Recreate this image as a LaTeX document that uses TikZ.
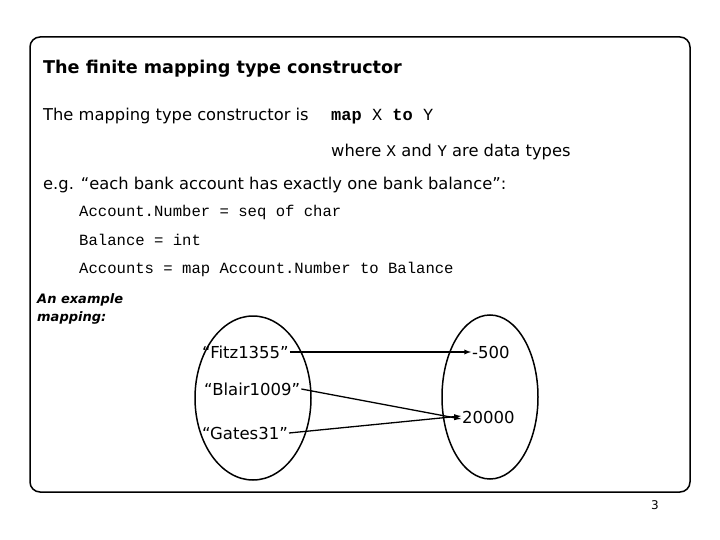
\documentclass[tikz,border=0pt]{standalone}
\usepackage{fontspec}
\setmainfont{DejaVu Sans}
\setmonofont{Liberation Mono}
\begin{document}
\begin{tikzpicture}[x=1pt,y=-1pt,
  txt/.style={anchor=base west,inner sep=0pt,font=\fontsize{16.3}{18}\selectfont},
  mono/.style={anchor=base west,inner sep=0pt,font=\ttfamily\fontsize{15.6}{18}\selectfont},
  item/.style={inner sep=1pt,font=\fontsize{16.5}{18}\selectfont},
  arr/.style={-latex,line width=1.3pt}]
\useasboundingbox (0,0) rectangle (720,540);
\draw[line width=1.5pt,rounded corners=10pt] (30,37) rectangle (690,492);
\node[txt,font=\bfseries\fontsize{17.6}{20}\selectfont] (title) at (43,74) {The finite mapping type constructor};
\node[txt] (l1) at (43,121) {The mapping type constructor is};
\node[mono,font=\ttfamily\fontsize{17}{18}\selectfont] (l1b) at (331,121) {\textbf{map} X \textbf{to} Y};
\node[txt] (l2) at (331,157) {where \texttt{X} and \texttt{Y} are data types};
\node[txt] (l3) at (43,190) {e.g. “each bank account has exactly one bank balance”:};
\node[mono] (c1) at (79,216) {Account.Number = seq of char};
\node[mono] (c2) at (79,245) {Balance = int};
\node[mono] (c3) at (79,273) {Accounts = map Account.Number to Balance};
\node[anchor=north west,inner sep=0pt,align=left,font=\bfseries\itshape\fontsize{13}{18}\selectfont] (ex) at (37,293) {An example\\mapping:};
\draw[line width=1.5pt] (253,398) ellipse [x radius=58,y radius=82];
\draw[line width=1.5pt] (490,397) ellipse [x radius=48,y radius=82];
\node[item,anchor=west] (f) at (201,352) {“Fitz1355”};
\node[item,anchor=west] (b) at (203,389) {“Blair1009”};
\node[item,anchor=west] (g) at (201,433) {“Gates31”};
\node[item,anchor=west] (m) at (471,352) {-500};
\node[item,anchor=west] (t) at (461,417) {20000};
\draw[arr] (f.east) -- (m.west);
\draw[arr] (b.east) -- ([yshift=-2pt]t.west);
\draw[arr] (g.east) -- ([yshift=1pt]t.west);
\node[txt,font=\fontsize{12}{14}\selectfont] (pg) at (651,509) {3};
\end{tikzpicture}
\end{document}
